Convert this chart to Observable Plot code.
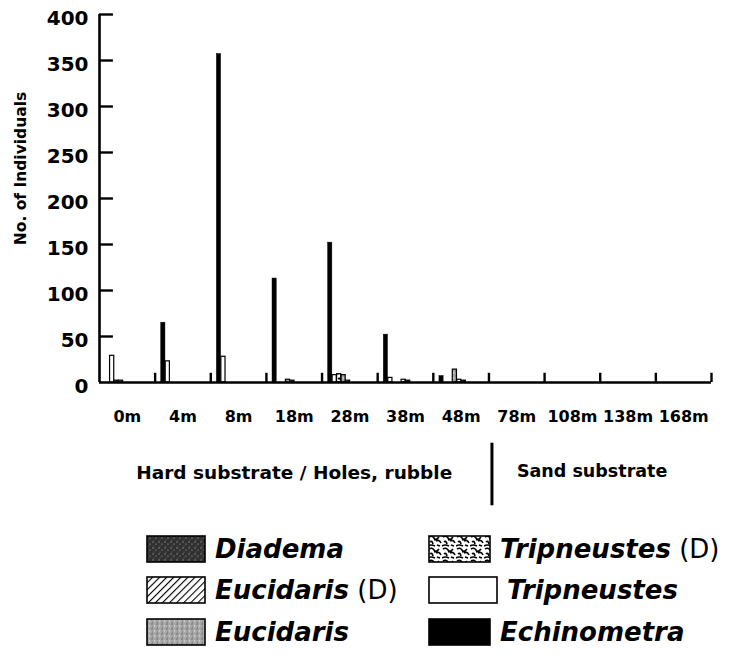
<!DOCTYPE html>
<html><head><meta charset="utf-8">
<script src="https://cdn.jsdelivr.net/npm/d3@7"></script>
<script src="https://cdn.jsdelivr.net/npm/@observablehq/plot@0.6"></script>
<style>
body{margin:0;background:#fff;}
#chart{width:741px;position:relative;}
#legend{position:relative;width:741px;height:155px;font-family:"DejaVu Sans",sans-serif;}
.item{position:absolute;display:flex;align-items:center;height:28px;}
.item svg{flex:none;}
.lab{margin-left:9px;font-size:26px;font-weight:bold;font-style:italic;white-space:nowrap;color:#000;}
.lab .d{font-style:normal;font-weight:normal;}
</style></head><body>
<svg width="0" height="0" style="position:absolute">
<defs>
<pattern id="pDia" width="6" height="6" patternUnits="userSpaceOnUse">
<rect width="6" height="6" fill="#303030"/>
<circle cx="1" cy="1" r="0.7" fill="#9a9a9a"/><circle cx="4" cy="3" r="0.6" fill="#bbb"/><circle cx="2" cy="5" r="0.5" fill="#777"/>
</pattern>
<pattern id="pEucD" width="5" height="5" patternUnits="userSpaceOnUse" patternTransform="rotate(45)">
<rect width="5" height="5" fill="#fff"/><line x1="0" y1="0" x2="0" y2="5" stroke="#000" stroke-width="2.2"/>
</pattern>
<pattern id="pEuc" width="5" height="5" patternUnits="userSpaceOnUse">
<rect width="5" height="5" fill="#a8a8a8"/>
<circle cx="1" cy="1" r="0.7" fill="#555"/><circle cx="3.5" cy="3" r="0.7" fill="#ddd"/><circle cx="1.5" cy="4" r="0.5" fill="#666"/>
</pattern>
<pattern id="pTripD" width="14" height="12" patternUnits="userSpaceOnUse">
<rect width="14" height="12" fill="#fff"/>
<path d="M1 2 Q4 0 6 3 T11 2 M2 7 Q4 5 5 9 M8 6 Q11 4 13 8 M0 11 Q3 9 7 11 M9 10 L12 11 M6 5 L9 4" fill="none" stroke="#000" stroke-width="1.6"/>
</pattern>
</defs></svg>
<div id="chart"></div>
<div id="legend"></div>
<script>
// ---- data ----
const depths = ["0m","4m","8m","18m","28m","38m","48m","78m","108m","138m","168m"];
const species = ["Echinometra","Tripneustes","Tripneustes (D)","Eucidaris","Eucidaris (D)","Diadema"];
const echinometra  = [0, 65, 357, 113, 152, 52, 7, 0, 0, 0, 0];
const tripneustes  = [29, 23, 28, 0, 8, 5, 0, 0, 0, 0, 0];
const tripneustesD = [2, 0, 0, 0, 9, 0, 0, 0, 0, 0, 0];
const eucidaris    = [2, 0, 0, 3, 8, 0, 14, 0, 0, 0, 0];
const eucidarisD   = [0, 0, 0, 2, 2, 3, 3, 0, 0, 0, 0];
const diadema      = [0, 0, 0, 0, 0, 2, 2, 0, 0, 0, 0];
const yTicks = [0, 50, 100, 150, 200, 250, 300, 350, 400];
const yTitle = "No. of Individuals";
const substrates = ["Hard substrate / Holes, rubble", "Sand substrate"];
const hardGroups = 7; // first 7 depths are hard substrate
const legendLeft = ["Diadema", "Eucidaris (D)", "Eucidaris"];
const legendRight = ["Tripneustes (D)", "Tripneustes", "Echinometra"];

// ---- build ----
const series = [echinometra, tripneustes, tripneustesD, eucidaris, eucidarisD, diadema];
const fills = {"Echinometra":"#000","Tripneustes":"#fff","Tripneustes (D)":"url(#pTripD)",
  "Eucidaris":"url(#pEuc)","Eucidaris (D)":"url(#pEucD)","Diadema":"url(#pDia)"};
const rows = [];
series.forEach((vals, s) => vals.forEach((v, i) => { if (v > 0) rows.push({i, s, v, sp: species[s]}); }));
const off = 0.11, slot = 0.08, bw = 0.075;
const nG = depths.length;
const font = "DejaVu Sans, sans-serif";

const barMarks = species.map((sp, s) => Plot.rect(rows.filter(r => r.s === s), {
  x1: r => r.i + off + s * slot, x2: r => r.i + off + s * slot + bw,
  y1: 0, y2: "v", fill: fills[sp], stroke: "#000", strokeWidth: s === 0 ? 0.5 : 1.2
}));

const plot = Plot.plot({
  width: 741, height: 512,
  marginTop: 14, marginLeft: 99, marginRight: 30, marginBottom: 130,
  style: {fontFamily: font, background: "#fff", color: "#000", overflow: "visible"},
  x: {domain: [0, nG], axis: null},
  y: {domain: [0, 400], axis: null},
  marks: [
    ...barMarks,
    Plot.ruleY([0], {x1: 0, x2: nG, strokeWidth: 2.6, stroke: "#000"}),
    Plot.ruleX(d3.range(1, nG + 1), {x: d => d, y1: 0, y2: 10, strokeWidth: 2.4, stroke: "#000"}),
    Plot.ruleX([0], {x: d => d, y1: 0, y2: 400, strokeWidth: 2.6, stroke: "#000"}),
    Plot.ruleY(yTicks.filter(t => t > 0), {y: d => d, x1: 0, x2: 0.25, strokeWidth: 2.4, stroke: "#000"}),
    Plot.text(yTicks, {x: 0, y: d => d, text: d => String(d), textAnchor: "end", dx: -11, dy: 4,
      fontSize: 20, fontWeight: "bold", fill: "#000"}),
    Plot.text([yTitle], {frameAnchor: "left", textAnchor: "middle", text: d => d, rotate: -90, dx: -78, dy: -30, fontSize: 15.5, fontWeight: "bold", fill: "#000"}),
    Plot.text(depths, {x: (d, i) => i + 0.5, frameAnchor: "bottom", text: d => d, dy: 39, fontSize: 16, fontWeight: "bold", fill: "#000"}),
    Plot.text([substrates[0]], {x: hardGroups / 2, frameAnchor: "bottom", text: d => d, dy: 96, fontSize: 18.5, fontWeight: "bold", fill: "#000"}),
    Plot.text([substrates[1]], {x: hardGroups, frameAnchor: "bottom", text: d => d, textAnchor: "start", dx: 28, dy: 94, fontSize: 17.5, fontWeight: "bold", fill: "#000"}),
    Plot.ruleX([hardGroups], {x: d => d, dx: 3, y1: -66, y2: -134, strokeWidth: 3, stroke: "#000"})
  ]
});
document.getElementById("chart").appendChild(plot);

// ---- legend ----
const leg = document.getElementById("legend");
function item(name, left, top, w) {
  const div = document.createElement("div");
  div.className = "item";
  div.style.left = left + "px"; div.style.top = top + "px";
  div.innerHTML = `<svg width="${w}" height="28"><rect x="1" y="1" width="${w-2}" height="26" fill="${fills[name]}" stroke="#000" stroke-width="1.6"/></svg>`;
  const lab = document.createElement("span");
  lab.className = "lab";
  const m = name.match(/^(.*?)( \(D\))?$/);
  lab.textContent = m[1];
  if (m[2]) { const d = document.createElement("span"); d.className = "d"; d.textContent = m[2]; lab.appendChild(d); }
  div.appendChild(lab);
  leg.appendChild(div);
}
const tops = [23, 64, 106];
legendLeft.forEach((n, k) => item(n, 146, tops[k], 60));
legendRight.forEach((n, k) => item(n, 428, tops[k], n === "Tripneustes" ? 70 : 63));
</script>
</body></html>
